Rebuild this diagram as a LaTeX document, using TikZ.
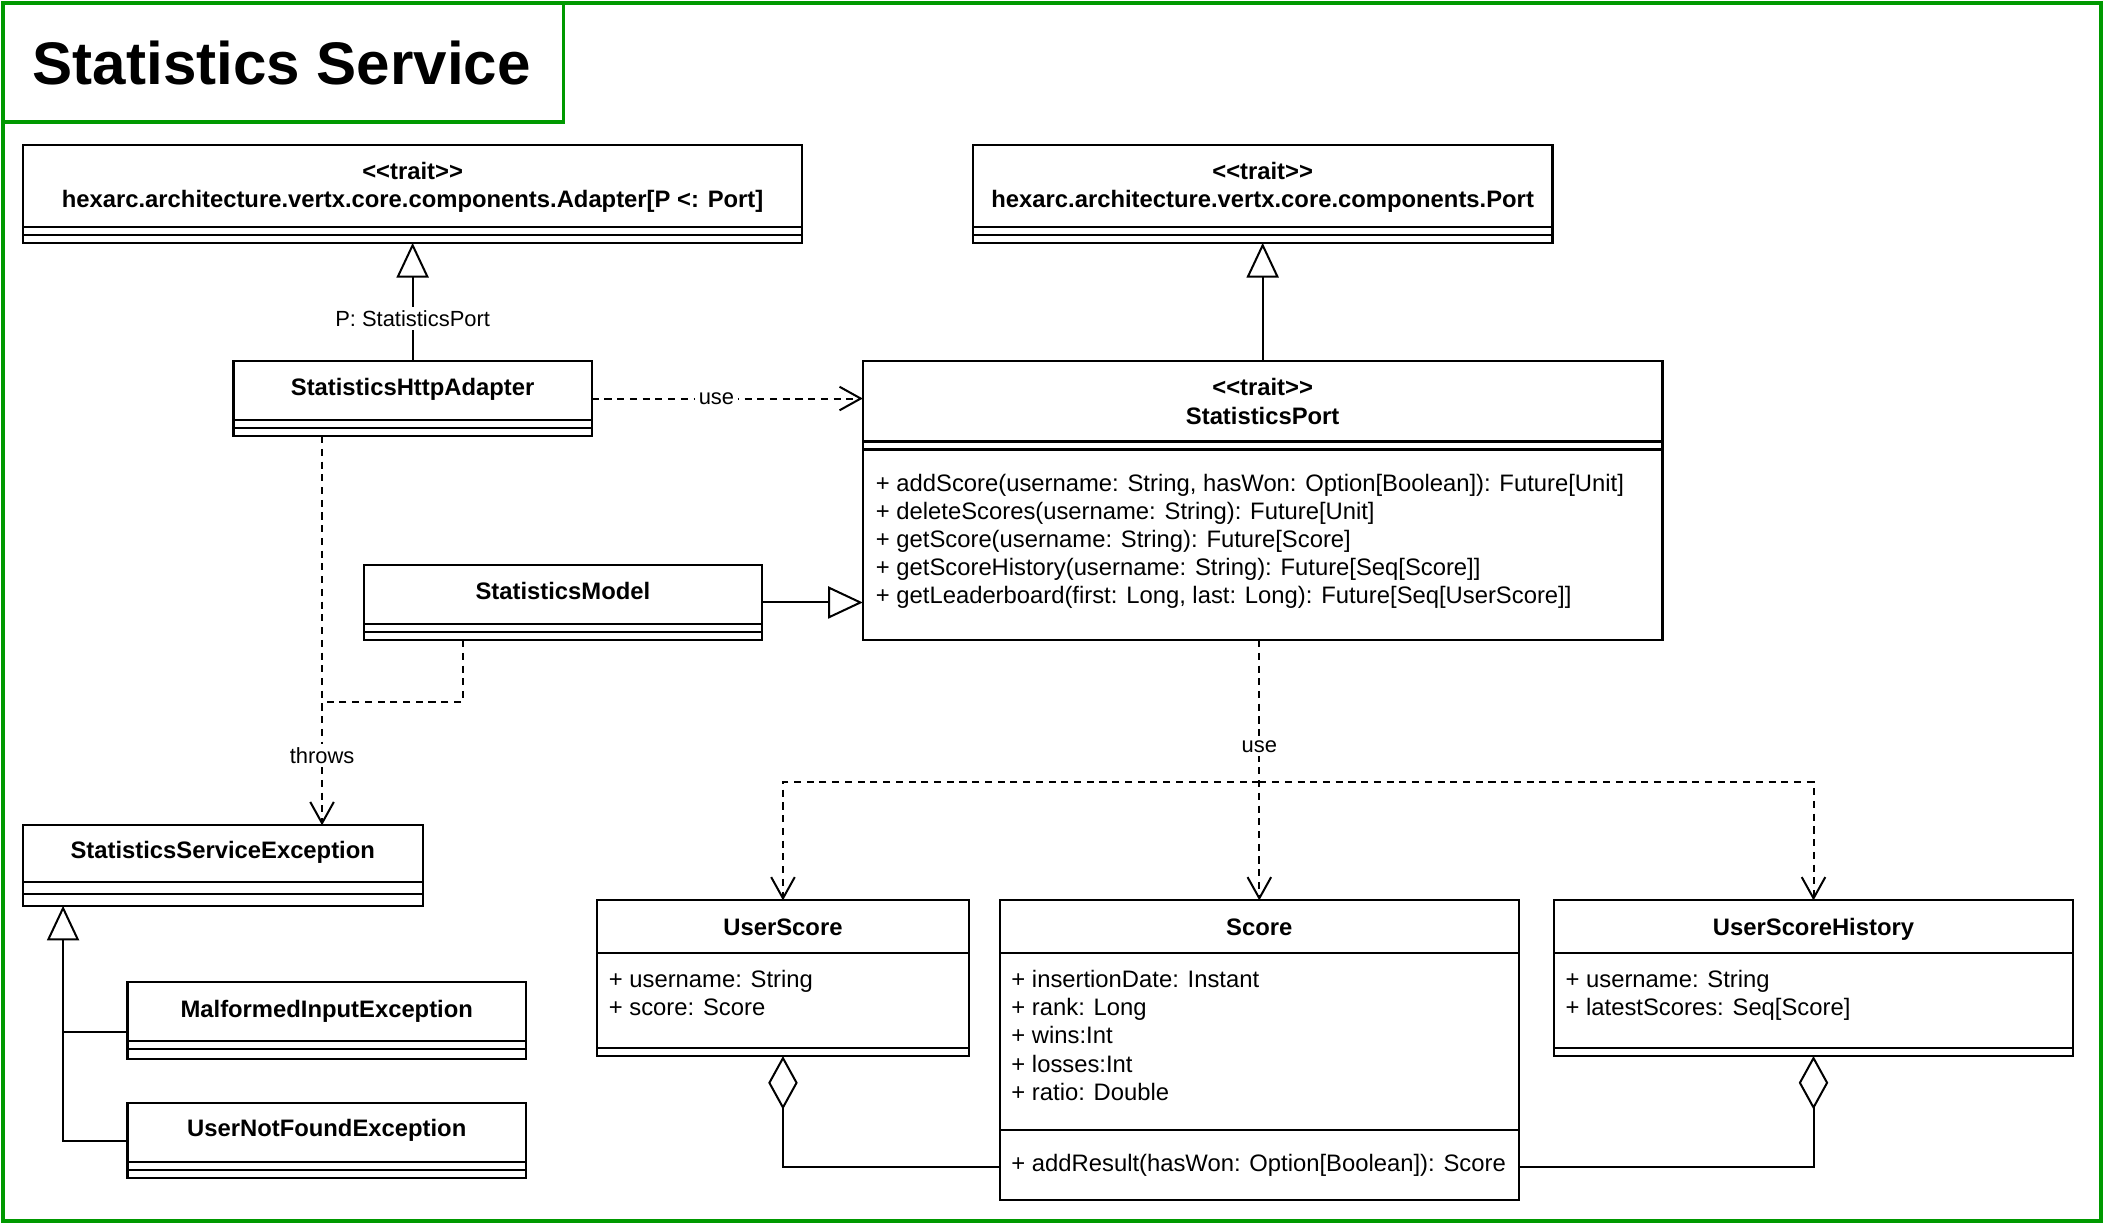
\documentclass[tikz,border=0pt]{standalone}
\usepackage{fontspec}
\setmainfont{Liberation Sans}
\usetikzlibrary{arrows.meta}
\definecolor{verdecornice}{RGB}{0,153,0}

\begin{document}
\begin{tikzpicture}[x=0.02cm, y=-0.02cm, line width=0.9pt,
    classbox/.style={draw, rectangle, inner sep=0pt, outer sep=0pt, anchor=north west},
    titolo/.style={font=\fontsize{10.1}{12}\selectfont\bfseries, anchor=base, inner sep=0pt},
    voce/.style={font=\fontsize{10.1}{12}\selectfont, anchor=base west, inner sep=0pt},
    etichetta/.style={font=\fontsize{9.3}{11}\selectfont, fill=white, inner sep=1.5pt},
    dip/.style={line width=0.85pt, dash pattern=on 3pt off 2.4pt, -{Straight Barb[length=9pt, width=10pt]}},
    tratteggio/.style={line width=0.85pt, dash pattern=on 3pt off 2.4pt},
    eredita/.style={line width=0.85pt, -{Triangle[open, length=14.7pt, width=13.6pt]}},
    aggr/.style={line width=0.85pt, -{Diamond[open, length=22.7pt, width=12.5pt]}}]

    \useasboundingbox (0,0) rectangle (1568,912);

    % Definizione del comando \classe: nome, x1, y1, x2, y2, fine intestazione, fine attributi
    \def\classe#1#2#3#4#5#6#7{%
        \node[classbox, minimum width={(#4-#2)*0.02cm}, minimum height={(#5-#3)*0.02cm}] (#1) at (#2,#3) {};%
        \draw (#2,#6) -- (#4,#6);%
        \draw (#2,#7) -- (#4,#7);%
    }

    % -- Cornice e titolo --
    \draw[verdecornice, line width=1.6pt] (2,2) rectangle (1566,910);
    \draw[verdecornice, line width=1.6pt] (2,2) rectangle (420,91);
    \node[font=\fontsize{25.5}{30}\selectfont\bfseries] (servizio) at (210,47) {Statistics Service};

    % -- Tratti in alto --
    \classe{adapter}{17}{108}{598}{181}{169}{175}
    \node[titolo] (adapter-s) at (307.5,134) {{<}{<}trait{>}{>}};
    \node[titolo] (adapter-t) at (307.5,155) {hexarc.architecture.vertx.core.components.Adapter[P {<}: Port]};

    \classe{port}{725}{108}{1157}{181}{169}{175}
    \node[titolo] (port-s) at (941,134) {{<}{<}trait{>}{>}};
    \node[titolo] (port-t) at (941,155) {hexarc.architecture.vertx.core.components.Port};

    % -- Adapter, porta e modello --
    \classe{httpadapter}{174}{269}{441}{325}{313}{319}
    \node[titolo] (httpadapter-t) at (307.5,295) {StatisticsHttpAdapter};

    \classe{statport}{643}{269}{1239}{477}{329}{335}
    \node[titolo] (statport-s) at (941,295) {{<}{<}trait{>}{>}};
    \node[titolo] (statport-t) at (941,316) {StatisticsPort};
    \foreach \m [count=\i from 0] in {%
        {+ addScore(username: String, hasWon: Option[Boolean]): Future[Unit]},
        {+ deleteScores(username: String): Future[Unit]},
        {+ getScore(username: String): Future[Score]},
        {+ getScoreHistory(username: String): Future[Seq[Score]]},
        {+ getLeaderboard(first: Long, last: Long): Future[Seq[UserScore]]}}
        \node[voce] (statport-m\i) at (652,366+21*\i) {\m};

    \classe{model}{271}{421}{568}{477}{465}{471}
    \node[titolo] (model-t) at (419.5,447) {StatisticsModel};

    % -- Eccezioni --
    \classe{statexc}{17}{615}{315}{675}{657}{666}
    \node[titolo] (statexc-t) at (166,640) {StatisticsServiceException};

    \classe{malformed}{95}{732}{392}{789}{776}{782}
    \node[titolo] (malformed-t) at (243.5,758) {MalformedInputException};

    \classe{notfound}{95}{822}{392}{878}{866}{872}
    \node[titolo] (notfound-t) at (243.5,847) {UserNotFoundException};

    % -- Classi dei dati --
    \classe{userscore}{445}{671}{722}{787}{710}{781}
    \node[titolo] (userscore-t) at (583.5,697) {UserScore};
    \foreach \a [count=\i from 0] in {{+ username: String}, {+ score: Score}}
        \node[voce] (userscore-a\i) at (453,736+21*\i) {\a};

    \classe{score}{745}{671}{1132}{894}{710}{842}
    \node[titolo] (score-t) at (938.5,697) {Score};
    \foreach \a [count=\i from 0] in {{+ insertionDate: Instant}, {+ rank: Long}, {+ wins:Int}, {+ losses:Int}, {+ ratio: Double}}
        \node[voce] (score-a\i) at (753,736+21*\i) {\a};
    \node[voce] (score-m0) at (753,873) {+ addResult(hasWon: Option[Boolean]): Score};

    \classe{history}{1158}{671}{1545}{787}{710}{781}
    \node[titolo] (history-t) at (1351.5,697) {UserScoreHistory};
    \foreach \a [count=\i from 0] in {{+ username: String}, {+ latestScores: Seq[Score]}}
        \node[voce] (history-a\i) at (1166,736+21*\i) {\a};

    % -- Ereditarieta --
    \draw[eredita] (httpadapter.north) -- node[etichetta, pos=0.36] (tipo) {P: StatisticsPort} (adapter.south);
    \draw[eredita] (statport.north) -- (port.south);
    \draw[eredita] (model.east) -- (model.east -| statport.west);
    \draw[eredita] (notfound.west) -| ([xshift=0.6cm]statexc.south west);
    \draw[line width=0.85pt] ([yshift=-0.17cm]malformed.west) -- ++(-48,0);

    % -- Dipendenze --
    \draw[dip] (httpadapter.east) -- node[etichetta, pos=0.46] (usa1) {use} (httpadapter.east -| statport.west);

    \coordinate (snodo) at (240,523);
    \coordinate (uscita) at (345,477);
    \draw[dip] (httpadapter.south -| snodo) -- node[etichetta, pos=0.82] (lancia) {throws} (statexc.north -| snodo);
    \draw[tratteggio] (uscita) |- (snodo);

    \coordinate (biforc) at (938.5,583);
    \draw[dip] (statport.south -| score.north) -- node[etichetta, pos=0.41] (usa2) {use} (score.north);
    \draw[dip] (biforc) -| (userscore.north);
    \draw[dip] (biforc) -| (history.north);

    % -- Aggregazioni --
    \draw[aggr] (score.south west) ++(0,-24) -| (userscore.south);
    \draw[aggr] (score.south east) ++(0,-24) -| (history.south);
\end{tikzpicture}
\end{document}
